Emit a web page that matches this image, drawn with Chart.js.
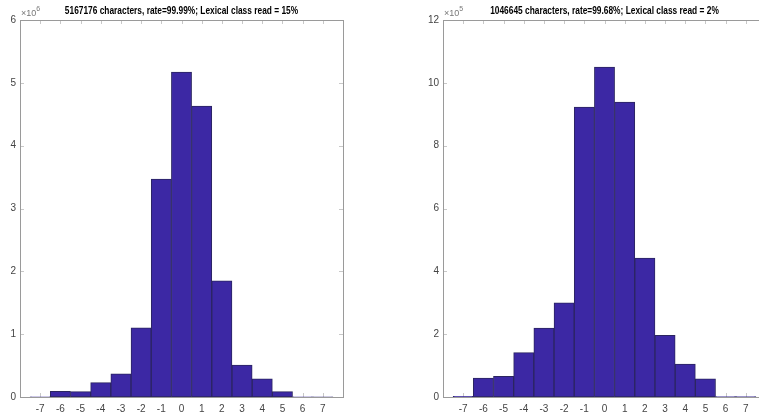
<!DOCTYPE html>
<html>
<head>
<meta charset="utf-8">
<script src="https://cdn.jsdelivr.net/npm/chart.js@4"></script>
<style>
  html, body { margin: 0; padding: 0; background: #fff; overflow: hidden; width: 759px; height: 415px; }
  .box { position: absolute; top: 0; }
</style>
</head>
<body>
<div class="box" style="left:0"><canvas id="left" width="380" height="415"></canvas></div>
<div class="box" style="left:380px"><canvas id="right" width="400" height="415"></canvas></div>
<script>
// histogram bins (centres)
const bins = [-7, -6, -5, -4, -3, -2, -1, 0, 1, 2, 3, 4, 5, 6, 7];

// left panel, counts in units of 10^6
const leftCounts = [0.003, 0.09, 0.085, 0.23, 0.37, 1.1, 3.47, 5.17, 4.63, 1.85, 0.51, 0.29, 0.085, 0.004, 0.001];
const leftTitle = '5167176 characters, rate=99.99%; Lexical class read = 15%';
const leftExp = '6';
const leftYTicks = [0, 1, 2, 3, 4, 5, 6];

// right panel, counts in units of 10^5
const rightCounts = [0.02, 0.6, 0.66, 1.41, 2.19, 3.0, 9.23, 10.5, 9.39, 4.42, 1.96, 1.05, 0.58, 0.01, 0.01];
const rightTitle = '1046645 characters, rate=99.68%; Lexical class read = 2%';
const rightExp = '5';
const rightYTicks = [0, 2, 4, 6, 8, 10, 12];

const xTickLabels = [-7, -6, -5, -4, -3, -2, -1, 0, 1, 2, 3, 4, 5, 6, 7];

const FONT = '"Liberation Sans", Arial, sans-serif';

// matlab-like box with inward ticks, drawn under the bars
const axesBox = {
  id: 'axesBox',
  beforeDatasetsDraw(chart) {
    const { ctx, chartArea: a, scales } = chart;
    ctx.save();
    ctx.strokeStyle = '#c8c8c8';
    ctx.lineWidth = 1;
    ctx.beginPath();
    xTickLabels.forEach(v => {
      const x = Math.round(scales.x.getPixelForValue(v)) + 0.5;
      ctx.moveTo(x, a.bottom); ctx.lineTo(x, a.bottom - 4);
      ctx.moveTo(x, a.top); ctx.lineTo(x, a.top + 4);
    });
    chart.options.yTickList.forEach(v => {
      const y = Math.round(scales.y.getPixelForValue(v)) + 0.5;
      ctx.moveTo(a.left, y); ctx.lineTo(a.left + 4, y);
      ctx.moveTo(a.right, y); ctx.lineTo(a.right - 4, y);
    });
    ctx.stroke();
    ctx.strokeStyle = '#9a9a9a';
    ctx.strokeRect(Math.round(a.left) + 0.5, Math.round(a.top) + 0.5,
      Math.round(a.right - a.left), Math.round(a.bottom - a.top));
    ctx.restore();
  },
  afterDraw(chart) {
    const { ctx, chartArea: a } = chart;
    const o = chart.options;
    ctx.save();
    // condensed bold title, squeezed horizontally
    ctx.fillStyle = '#000';
    ctx.font = 'bold 11px ' + FONT;
    ctx.textAlign = 'center';
    ctx.textBaseline = 'alphabetic';
    ctx.translate((a.left + a.right) / 2, 14);
    ctx.scale(0.76, 1);
    ctx.fillText(o.panelTitle, 0, 0);
    ctx.restore();
    // exponent label
    ctx.save();
    ctx.fillStyle = '#777';
    ctx.textAlign = 'left';
    ctx.font = '9px ' + FONT;
    ctx.fillText('\u00d710', a.left + 1, a.top - 4);
    const w = ctx.measureText('\u00d710').width;
    ctx.font = '7px ' + FONT;
    ctx.fillText(o.expText, a.left + 1 + w, a.top - 9);
    ctx.restore();
  }
};

function makeChart(id, counts, yMax, yStep, yTicks, title, exp, yWidth, padRight) {
  return new Chart(document.getElementById(id), {
    type: 'bar',
    data: {
      datasets: [{
        data: bins.map((b, i) => ({ x: b, y: counts[i] })),
        backgroundColor: '#3c28a4',
        borderColor: '#2b2560',
        borderWidth: 1,
        borderSkipped: false,
        barPercentage: 1,
        categoryPercentage: 1
      }]
    },
    options: {
      responsive: false,
      animation: false,
      devicePixelRatio: 1,
      panelTitle: title,
      expText: exp,
      yTickList: yTicks,
      layout: { padding: { top: 20, right: padRight, left: 0, bottom: 0 } },
      plugins: { legend: { display: false }, tooltip: { enabled: false }, title: { display: false } },
      scales: {
        x: {
          type: 'linear',
          min: -8, max: 8,
          offset: false,
          grid: { display: false, drawTicks: false },
          border: { display: false },
          afterFit: s => { s.height = 18; },
          afterBuildTicks: s => { s.ticks = xTickLabels.map(v => ({ value: v })); },
          ticks: { color: '#444', font: { family: FONT, size: 10 }, padding: 6, maxRotation: 0, autoSkip: false }
        },
        y: {
          min: 0, max: yMax,
          grid: { display: false, drawTicks: false },
          border: { display: false },
          afterFit: s => { s.width = yWidth; },
          ticks: { stepSize: yStep, color: '#444', font: { family: FONT, size: 10 }, padding: 4 }
        }
      }
    },
    plugins: [axesBox]
  });
}

makeChart('left', leftCounts, 6, 1, leftYTicks, leftTitle, leftExp, 20, 37);
makeChart('right', rightCounts, 12, 2, rightYTicks, rightTitle, rightExp, 63, 14);
</script>
</body>
</html>
